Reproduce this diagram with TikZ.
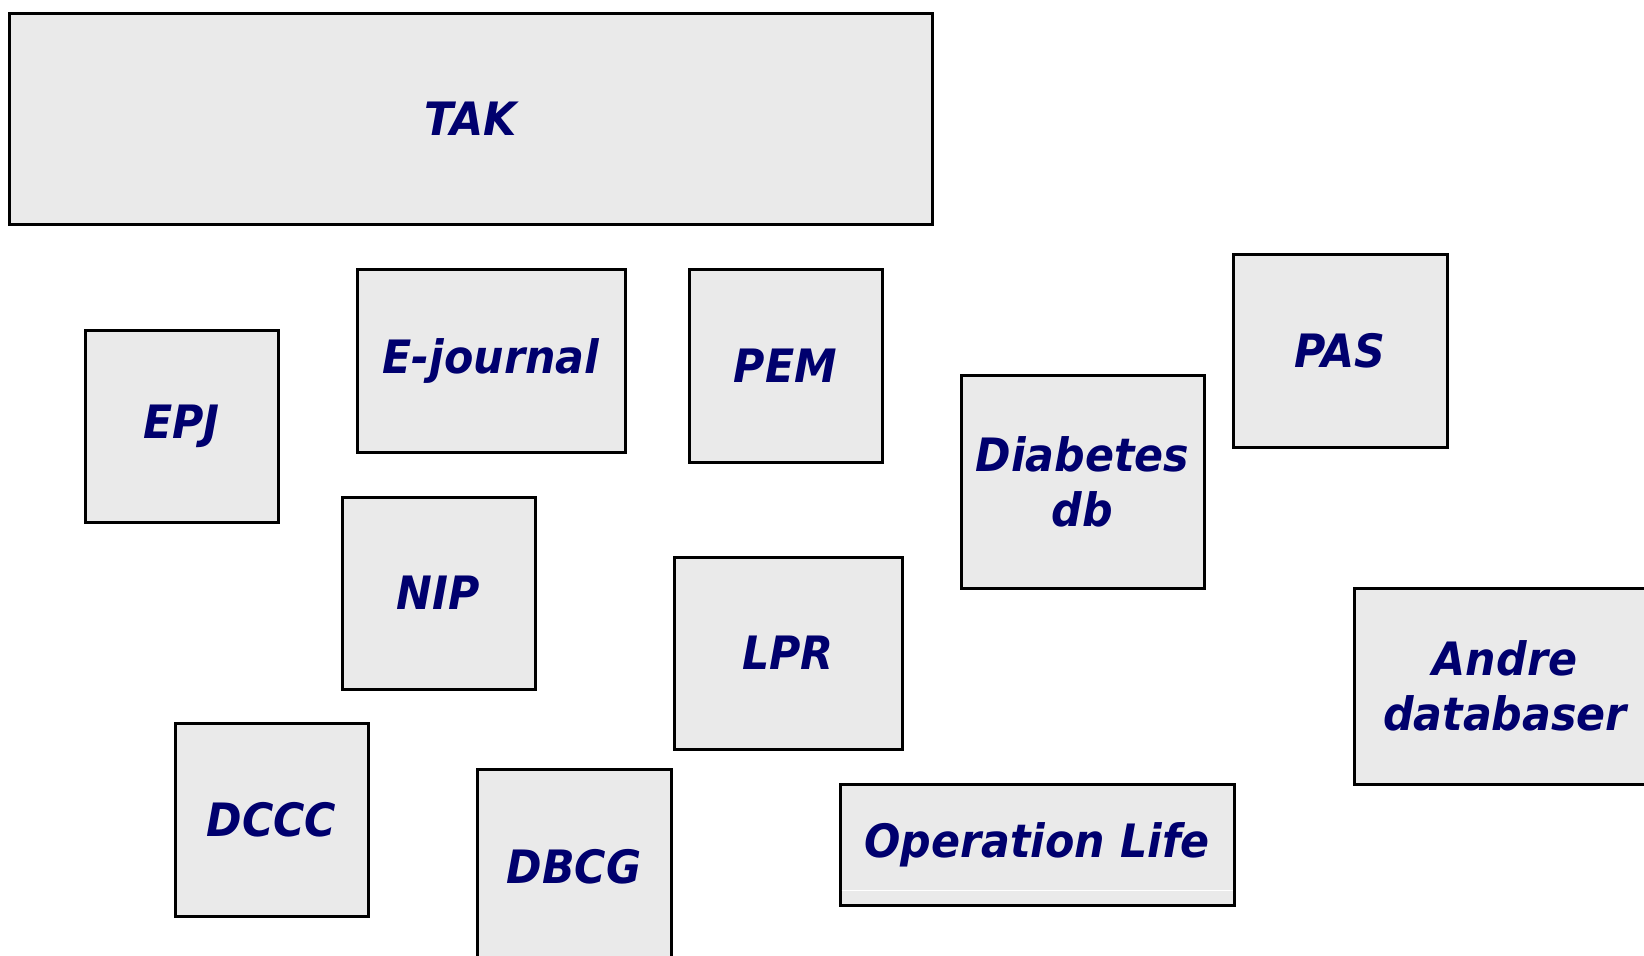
\documentclass[tikz,border=0pt]{standalone}
\usepackage{fontspec}
\setmainfont{DejaVu Sans}[FakeStretch=0.93]
\definecolor{boxfill}{RGB}{234,234,234}
\definecolor{navytext}{RGB}{0,0,110}
\tikzset{
  dbbox/.style={draw=black, line width=1.5pt, fill=boxfill, rectangle, inner sep=0pt,
    align=center, text=navytext,
    font=\fontsize{23}{27.5}\selectfont\bfseries\itshape}
}
\newcommand\dbnode[6]{%
  \node[dbbox, minimum width={(#4-#2)*0.5pt}, minimum height={(#5-#3)*0.5pt}]
    (#1) at ({(#2+#4)/2},{(#3+#5)/2}) {#6};}
\begin{document}
\begin{tikzpicture}[x=0.5pt,y=-0.5pt]
\useasboundingbox (0,0) rectangle (1644,955);
\dbnode{tak}{9}{13}{932}{224}{TAK}
\dbnode{epj}{85}{330}{278}{522}{EPJ}
\dbnode{ejournal}{357}{269}{625}{452}{E-journal}
\dbnode{pem}{689}{269}{882}{462}{PEM}
\dbnode{pas}{1233}{254}{1447}{447}{PAS}
\dbnode{diabetes}{961}{375}{1204}{588}{Diabetes\\db}
\dbnode{nip}{342}{497}{535}{689}{NIP}
\dbnode{lpr}{674}{557}{902}{749}{LPR}
\dbnode{andre}{1354}{588}{1656}{784}{Andre\\databaser}
\dbnode{dccc}{175}{723}{368}{916}{DCCC}
\dbnode{dbcg}{477}{769}{671}{965}{DBCG}
\dbnode{opl}{840}{784}{1234}{905}{Operation Life}
\draw[white, line width=0.6pt] ([shift={(1.5pt,8pt)}]opl.south west) -- ([shift={(-1.5pt,8pt)}]opl.south east);
\end{tikzpicture}
\end{document}
